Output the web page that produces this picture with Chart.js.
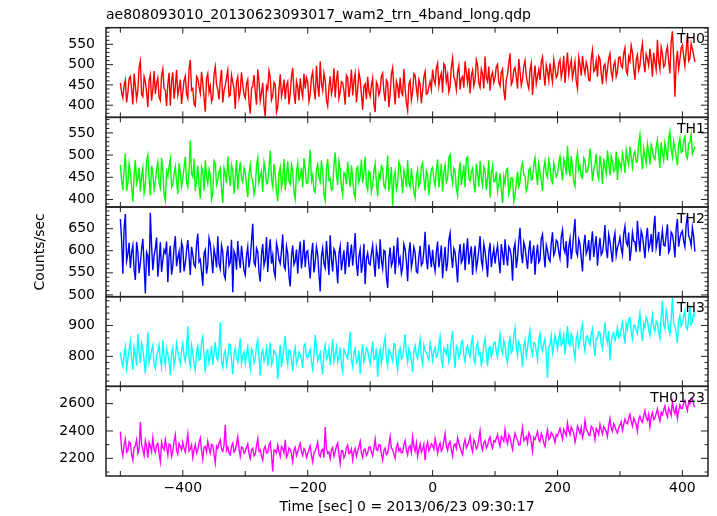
<!DOCTYPE html>
<html>
<head>
<meta charset="utf-8">
<script src="https://cdn.jsdelivr.net/npm/chart.js@4"></script>
<style>
  html, body { margin: 0; padding: 0; background: #fff; }
</style>
</head>
<body>
<canvas id="lc" width="717" height="516"></canvas>
<script>
// time bins (sec from 2013/06/23 09:30:17)
const tStart = -500;
const tStep = 2;
const xMin = -523;
const xMax = 441;

// panels, top to bottom
const panelNames = ['TH0', 'TH1', 'TH2', 'TH3', 'TH0123'];
const yMin = [370, 383, 496, 703, 2071];
const yMax = [591, 585, 699, 993, 2726];
const majorStep = [50, 50, 50, 100, 200];
const minorStep = [10, 10, 10, 20, 100];

// counts/sec, one row per 100 s
const th0 = [
  455,431,418,449,462,407,430,466,471,439,402,478,448,415,436,493,509,426,421,470,458,433,395,462,475,411,440,484,428,455,467,420,412,474,489,441,437,398,452,480,399,459,481,416,446,487,425,442,463,403,
  433,461,472,428,417,490,512,437,441,403,398,471,466,445,429,482,453,419,384,466,478,432,447,409,420,476,495,451,438,414,461,487,407,436,449,468,486,422,426,474,456,440,391,457,470,418,434,481,450,427,
  418,452,463,406,379,441,447,474,432,401,488,459,411,430,455,398,372,447,439,485,469,413,424,456,451,383,396,438,476,421,437,463,415,449,458,402,429,470,492,431,403,459,445,412,466,437,420,478,441,468,
  457,409,427,468,482,440,414,497,449,421,508,453,436,479,461,412,398,444,471,428,443,491,419,462,485,417,432,458,455,436,401,474,467,420,446,488,424,459,478,407,438,481,463,426,389,446,452,415,470,433,
  421,448,466,404,383,457,449,425,437,471,479,433,410,462,456,395,428,476,492,442,402,459,447,418,468,431,425,489,440,406,387,452,461,413,434,478,474,441,418,463,452,405,436,470,483,427,429,445,458,439,
  488,463,452,491,503,447,468,479,431,502,497,458,475,433,446,494,516,470,460,438,482,497,439,466,471,443,508,480,455,491,429,473,486,448,462,512,499,454,444,489,477,441,520,467,458,495,436,472,481,456,
  468,495,501,456,447,481,489,437,412,463,476,505,528,451,459,486,493,470,441,514,482,449,465,496,510,472,453,441,487,503,425,467,498,452,471,488,462,507,519,476,448,499,484,461,503,477,457,512,491,468,
  474,503,512,469,486,522,455,497,530,476,495,511,468,486,507,459,441,518,499,473,521,494,478,506,493,462,460,515,536,483,487,509,470,521,514,477,452,496,501,464,489,515,527,482,466,499,508,471,483,517,
  519,497,492,528,541,484,476,519,508,547,530,491,463,512,524,486,497,533,552,505,481,526,515,498,539,514,470,529,506,487,561,509,488,543,527,494,499,531,545,508,478,556,582,517,421,503,534,489,512,541,
  548,521,497,535,573,509,515,552,538,524,506
];
const th1 = [
  478,443,421,468,503,419,437,481,462,427,395,455,489,436,446,472,418,453,471,414,432,487,500,448,409,476,458,422,441,469,484,437,426,493,466,411,397,463,452,475,491,428,435,457,474,440,413,482,460,429,
  447,472,496,439,428,466,533,458,451,492,419,445,476,431,402,474,463,420,488,452,436,468,455,401,414,487,481,433,443,462,470,425,392,471,459,437,497,454,431,478,466,413,448,489,422,460,485,447,439,471,
  461,430,405,457,478,449,443,412,426,476,494,438,452,463,417,484,469,435,438,471,510,446,429,480,457,418,396,459,473,427,446,491,421,455,486,440,434,478,465,416,401,463,482,444,450,472,427,493,468,436,
  437,475,512,442,455,420,416,467,479,451,440,488,463,412,398,470,491,443,447,421,424,478,506,455,433,486,469,427,411,461,458,434,485,452,429,477,446,415,403,468,474,439,452,490,438,460,496,433,421,463,
  459,417,432,464,481,439,407,458,448,476,470,431,425,456,499,418,441,473,386,447,463,422,435,485,476,449,414,466,452,428,489,437,428,470,445,416,404,452,467,429,438,474,483,446,420,465,456,409,443,468,
  472,446,431,467,490,427,452,481,418,463,478,439,446,494,501,455,437,470,463,425,409,458,485,432,454,477,427,492,496,448,441,462,470,436,416,481,458,429,487,450,432,473,465,421,449,488,404,459,476,440,
  441,463,418,435,459,421,392,452,436,467,470,413,425,449,448,396,411,437,463,429,439,472,483,455,452,419,428,466,471,444,446,478,494,459,433,481,462,441,419,470,487,458,450,489,474,443,437,482,466,451,
  458,482,497,466,443,491,480,456,521,473,452,498,469,441,430,487,505,467,476,452,448,494,488,461,463,479,515,484,441,467,479,503,458,446,499,475,435,492,472,458,510,481,454,497,486,463,467,508,444,489,
  481,468,503,487,460,511,492,478,519,496,473,502,508,484,486,527,546,499,468,516,497,481,525,505,479,523,512,494,490,518,534,501,471,529,506,488,527,509,488,536,553,512,496,531,515,497,477,524,538,506,
  509,532,541,498,492,526,528,547,503,511,519
];
const th2 = [
  672,624,548,651,683,577,592,618,561,596,612,557,534,620,598,549,571,603,627,568,503,597,589,543,686,611,556,589,604,630,541,575,619,552,578,602,595,621,529,586,611,546,566,608,633,565,584,598,550,619,
  607,553,572,601,624,587,545,609,591,568,563,614,639,575,580,553,521,594,602,548,568,629,616,583,549,604,588,562,633,571,559,612,597,546,537,587,611,566,574,625,506,599,590,557,622,584,561,611,583,556,
  545,589,609,562,583,621,661,574,567,606,598,551,530,593,615,566,579,631,552,597,626,571,590,554,541,617,603,580,571,599,637,565,558,610,594,542,519,588,612,569,577,603,548,594,621,560,586,625,563,597,
  600,566,537,592,618,551,574,609,592,547,508,588,606,571,561,622,584,545,635,579,553,604,597,568,526,593,611,556,578,601,547,585,620,563,589,614,566,597,640,572,543,588,603,550,571,616,524,582,595,571,
  568,594,612,573,541,606,589,559,626,578,559,601,598,542,516,583,607,566,575,611,547,589,630,571,583,548,562,615,604,577,531,596,619,562,579,608,596,553,550,587,611,567,572,599,643,581,558,614,590,563,
  602,571,554,596,621,562,585,612,538,579,609,554,573,624,640,588,561,605,597,566,528,591,615,573,580,617,556,598,628,569,592,610,545,587,611,559,576,602,633,578,563,615,599,572,540,596,618,563,587,605,
  571,596,612,578,549,615,594,568,626,591,566,609,603,587,532,603,617,561,584,622,652,594,572,619,608,583,559,600,623,571,591,612,546,589,614,574,580,627,637,595,562,613,601,582,576,617,642,590,598,624,
  620,597,583,631,647,606,596,622,561,609,628,581,604,640,672,598,589,626,615,584,553,612,636,593,602,624,578,617,644,586,611,633,566,604,629,591,597,619,658,603,583,637,621,598,574,625,640,589,607,616,
  630,606,591,637,655,619,612,641,577,603,641,622,620,597,668,628,598,645,634,611,583,629,652,604,615,638,597,651,679,607,624,643,588,622,646,613,611,634,660,596,603,642,637,618,585,649,672,609,628,640,
  645,621,609,658,681,634,627,612,653,633,598
];
const th3 = [
  812,785,768,804,831,762,790,821,849,793,757,829,806,770,873,812,779,842,824,787,745,809,878,781,798,820,836,774,762,803,815,837,789,766,852,799,771,826,807,783,739,811,828,769,794,843,817,790,776,818,
  842,801,783,826,897,791,769,837,810,774,755,815,833,788,792,846,864,803,748,817,821,779,801,834,772,812,846,795,787,828,910,783,764,808,819,771,796,840,838,786,742,805,826,797,781,822,858,777,803,814,
  777,809,831,786,760,824,814,779,791,835,853,797,738,811,822,783,800,826,769,806,845,772,785,819,812,798,727,791,837,765,796,830,866,803,774,821,818,787,752,810,829,776,788,815,807,792,763,834,841,799,
  795,812,823,781,758,804,870,826,784,798,811,773,742,815,836,790,799,827,772,808,857,784,806,831,781,797,829,770,750,822,814,801,793,839,879,788,767,812,825,779,786,818,743,806,838,783,802,827,819,794,
  776,808,848,789,795,826,733,801,822,777,807,839,861,794,769,823,814,800,785,841,839,782,756,813,827,791,798,832,872,807,781,826,810,786,749,817,834,803,792,829,856,797,774,835,818,812,800,788,843,820,
  787,816,829,798,803,842,864,788,771,827,818,806,840,781,795,853,882,810,762,833,826,796,809,847,851,802,783,824,834,812,798,838,869,791,777,829,845,806,812,772,790,837,858,813,768,826,831,799,815,844,
  846,815,797,838,871,824,809,852,833,796,778,841,859,812,820,866,892,829,801,847,837,810,765,834,853,801,826,862,884,823,806,845,842,817,790,856,875,829,818,843,857,804,731,828,839,867,811,833,868,849,
  823,857,879,836,842,868,806,851,898,844,835,873,861,819,792,856,874,831,849,887,905,842,817,864,866,850,838,871,889,836,801,858,857,880,876,842,826,869,910,861,845,882,787,848,869,876,852,867,893,859,
  864,889,910,873,842,906,887,921,925,878,856,899,901,884,873,912,940,881,849,905,893,927,917,886,868,901,934,893,882,913,906,878,857,925,978,901,889,948,924,887,871,919,989,907,898,876,843,916,932,897,
  905,931,948,894,887,922,965,903,912,940,928
];
const th0123 = [
  2395,2263,2218,2301,2342,2244,2256,2320,2310,2228,2187,2279,2291,2336,2237,2268,2466,2304,2265,2221,2329,2287,2204,2316,2287,2249,2351,2270,2242,2297,2308,2236,2175,2318,2279,2261,2336,2283,2223,2305,2298,2215,2254,2327,2372,2258,2231,2309,2285,2262,
  2318,2271,2246,2309,2379,2253,2268,2297,2205,2262,2301,2238,2263,2315,2348,2257,2192,2281,2287,2246,2324,2273,2239,2302,2296,2228,2167,2290,2272,2312,2335,2266,2251,2297,2446,2259,2283,2240,2227,2288,2311,2246,2260,2304,2357,2269,2214,2283,2276,2238,
  2249,2282,2306,2235,2198,2263,2274,2219,2231,2291,2343,2250,2262,2214,2186,2271,2289,2239,2240,2298,2318,2226,2105,2262,2257,2239,2296,2251,2213,2287,2273,2242,2335,2208,2228,2276,2264,2233,2177,2259,2281,2220,2246,2284,2309,2247,2221,2271,2258,2205,
  2233,2264,2290,2219,2174,2241,2254,2283,2318,2229,2212,2258,2267,2205,2428,2271,2236,2246,2198,2262,2279,2214,2247,2290,2311,2231,2163,2257,2258,2203,2225,2276,2296,2234,2241,2268,2189,2251,2273,2215,2252,2287,2324,2238,2206,2263,2268,2222,2239,2280,
  2283,2248,2219,2270,2341,2262,2257,2301,2296,2233,2188,2259,2275,2227,2238,2294,2360,2275,2262,2229,2201,2284,2309,2253,2271,2240,2245,2298,2330,2263,2226,2281,2292,2244,2359,2290,2252,2311,2214,2266,2305,2245,2268,2302,2187,2281,2319,2254,2276,2306,
  2294,2267,2345,2298,2236,2287,2312,2253,2270,2326,2381,2292,2258,2307,2321,2263,2217,2294,2305,2271,2349,2312,2279,2251,2226,2303,2338,2276,2297,2319,2363,2284,2248,2335,2316,2269,2283,2342,2401,2297,2262,2314,2329,2276,2292,2336,2357,2301,2275,2328,
  2320,2347,2372,2318,2289,2361,2346,2325,2411,2341,2307,2373,2355,2302,2264,2339,2384,2356,2331,2297,2298,2368,2427,2330,2343,2359,2312,2387,2369,2318,2251,2352,2338,2366,2395,2334,2322,2381,2356,2309,2286,2358,2408,2337,2349,2389,2375,2351,2317,2372,
  2362,2393,2419,2376,2341,2412,2390,2367,2458,2401,2372,2429,2405,2384,2318,2362,2436,2409,2381,2427,2350,2388,2477,2413,2396,2371,2366,2434,2425,2392,2337,2418,2401,2375,2449,2408,2378,2432,2415,2396,2359,2441,2490,2419,2398,2452,2433,2403,2384,2426,
  2441,2468,2405,2447,2487,2459,2452,2494,2521,2471,2436,2493,2472,2448,2399,2486,2508,2475,2463,2512,2549,2497,2478,2521,2430,2503,2535,2484,2496,2527,2561,2509,2472,2536,2518,2552,2583,2529,2502,2567,2548,2514,2611,2558,2527,2575,2493,2549,2590,2563,
  2565,2602,2622,2581,2548,2614,2597,2636,2641,2593,2573
];

const series = [th0, th1, th2, th3, th0123];
const lineColors = ['#ff0000', '#00ff00', '#0000ff', '#00ffff', '#ff00ff'];
const fontFamily = '"DejaVu Sans", "Liberation Sans", sans-serif';

// qdp style frame: box round every panel, ticks pointing inwards, panel name top right
const qdpFrame = {
  id: 'qdpFrame',
  afterDraw(chart) {
    const { ctx, chartArea: a, scales } = chart;
    const xs = scales.x;
    const tick = (x1, y1, x2, y2) => {
      ctx.beginPath();
      ctx.moveTo(x1, y1);
      ctx.lineTo(x2, y2);
      ctx.stroke();
    };
    ctx.save();
    ctx.strokeStyle = '#222';
    panelNames.forEach((name, k) => {
      const ys = scales['y' + k];
      ctx.lineWidth = 1;
      ys.ticks.forEach(t => {
        const py = ys.getPixelForValue(t.value);
        const len = t.value % majorStep[k] === 0 ? 7 : 3.5;
        tick(a.left, py, a.left + len, py);
        tick(a.right, py, a.right - len, py);
      });
      xs.ticks.forEach(t => {
        const px = xs.getPixelForValue(t.value);
        const len = t.value % 200 === 0 ? 6 : 5;
        tick(px, ys.top, px, ys.top + len);
        tick(px, ys.bottom, px, ys.bottom - len);
      });
      ctx.lineWidth = 1.5;
      ctx.strokeRect(a.left, ys.top, a.right - a.left, ys.bottom - ys.top);

      ctx.fillStyle = '#000';
      ctx.font = '14px ' + fontFamily;
      ctx.textAlign = 'right';
      ctx.textBaseline = 'alphabetic';
      ctx.fillText(name, a.right - 3, ys.top + 15.5);
    });
    ctx.restore();
  }
};

const datasets = series.map((vals, k) => ({
  label: panelNames[k],
  data: vals.map((v, i) => ({ x: tStart + i * tStep, y: v })),
  yAxisID: 'y' + k,
  borderColor: lineColors[k],
  borderWidth: 1.4,
  pointRadius: 0,
  tension: 0
}));

const tickFont = { family: fontFamily, size: 14 };
const scales = {
  x: {
    type: 'linear',
    min: xMin,
    max: xMax,
    grid: { display: false, drawTicks: false },
    border: { display: false },
    ticks: {
      stepSize: 100,
      autoSkip: false,
      includeBounds: false,
      maxRotation: 0,
      padding: 4,
      color: '#000',
      font: tickFont,
      callback: v => v % 200 === 0 ? String(v).replace('-', '\u2212') : ''
    },
    title: {
      display: true,
      text: 'Time [sec] 0 = 2013/06/23 09:30:17',
      color: '#000',
      font: tickFont,
      padding: { top: 0, bottom: 0 }
    },
    afterFit: s => { s.height = 40; }
  }
};
// stacked left axes are laid out last-defined-on-top, so add them bottom panel first
for (let k = panelNames.length - 1; k >= 0; k--) {
  scales['y' + k] = {
    type: 'linear',
    position: 'left',
    stack: 'panels',
    stackWeight: 1,
    offset: false,
    min: yMin[k],
    max: yMax[k],
    grid: { display: false, drawTicks: false },
    border: { display: false },
    ticks: {
      stepSize: minorStep[k],
      autoSkip: false,
      includeBounds: false,
      padding: 11,
      color: '#000',
      font: tickFont,
      callback: v => v % majorStep[k] === 0 ? String(v) : ''
    },
    title: {
      display: k === 2,
      text: 'Counts/sec',
      color: '#000',
      font: tickFont,
      padding: { top: 32, bottom: 0 }
    },
    afterFit: s => { s.width = 106; }
  };
}

new Chart(document.getElementById('lc'), {
  type: 'line',
  data: { datasets },
  options: {
    responsive: false,
    animation: false,
    layout: { padding: { left: 0, right: 9, top: 0, bottom: 0 } },
    scales,
    plugins: {
      legend: { display: false },
      tooltip: { enabled: false },
      title: {
        display: true,
        text: 'ae808093010_20130623093017_wam2_trn_4band_long.qdp',
        align: 'start',
        fullSize: false,
        color: '#000',
        font: { family: fontFamily, size: 14, weight: 'normal' },
        padding: { top: 6.5, bottom: 4.4 }
      }
    }
  },
  plugins: [qdpFrame]
});
</script>
</body>
</html>
